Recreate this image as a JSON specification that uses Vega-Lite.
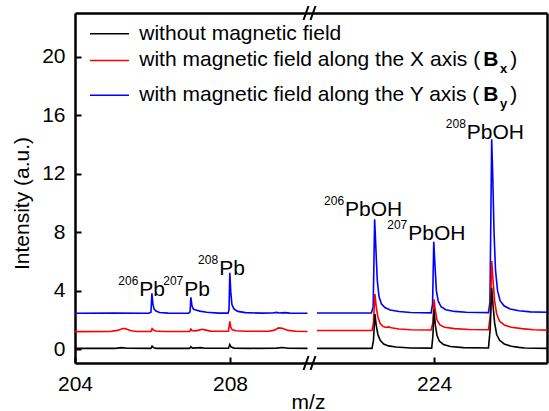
{
  "$schema": "https://vega.github.io/schema/vega-lite/v6.json",
  "width": 472,
  "height": 350,
  "autosize": {"type": "none"},
  "padding": {"left": 75, "top": 13, "right": 2, "bottom": 48},
  "background": "white",
  "config": {
    "view": {"stroke": null},
    "font": "Liberation Sans",
    "axis": {
      "labelFont": "Liberation Sans", "titleFont": "Liberation Sans",
      "labelColor": "black", "titleColor": "black", "domainColor": "black", "tickColor": "black",
      "grid": false, "domainWidth": 2.5, "tickWidth": 2, "labelFontSize": 21, "titleFontSize": 21,
      "titleFontWeight": "normal", "labelFlush": false, "labelOverlap": false
    }
  },
  "datasets": {
    "spectra": [
      {"s":"By","p":"L","mz":204,"i":2.45},{"s":"By","p":"L","mz":205.0,"i":2.46},{"s":"By","p":"L","mz":205.9,"i":2.45},{"s":"By","p":"L","mz":205.96,"i":2.52},{"s":"By","p":"L","mz":205.985,"i":3.82},{"s":"By","p":"L","mz":206.01,"i":3.1},{"s":"By","p":"L","mz":206.04,"i":2.75},{"s":"By","p":"L","mz":206.09,"i":2.6},{"s":"By","p":"L","mz":206.18,"i":2.51},{"s":"By","p":"L","mz":206.4,"i":2.46},{"s":"By","p":"L","mz":206.93,"i":2.45},{"s":"By","p":"L","mz":206.97,"i":2.55},{"s":"By","p":"L","mz":206.99,"i":3.54},{"s":"By","p":"L","mz":207.02,"i":2.95},{"s":"By","p":"L","mz":207.06,"i":2.72},{"s":"By","p":"L","mz":207.12,"i":2.68},{"s":"By","p":"L","mz":207.22,"i":2.6},{"s":"By","p":"L","mz":207.4,"i":2.52},{"s":"By","p":"L","mz":207.7,"i":2.46},{"s":"By","p":"L","mz":207.95,"i":2.46},{"s":"By","p":"L","mz":207.975,"i":2.7},{"s":"By","p":"L","mz":207.995,"i":5.23},{"s":"By","p":"L","mz":208.02,"i":3.9},{"s":"By","p":"L","mz":208.05,"i":3.05},{"s":"By","p":"L","mz":208.1,"i":2.75},{"s":"By","p":"L","mz":208.2,"i":2.58},{"s":"By","p":"L","mz":208.4,"i":2.5},{"s":"By","p":"L","mz":208.8,"i":2.46},{"s":"By","p":"L","mz":209.1,"i":2.47},{"s":"By","p":"L","mz":209.2,"i":2.51},{"s":"By","p":"L","mz":209.28,"i":2.47},{"s":"By","p":"L","mz":209.4,"i":2.5},{"s":"By","p":"L","mz":209.55,"i":2.46},{"s":"By","p":"L","mz":210,"i":2.45},
      {"s":"By","p":"R","mz":222,"i":2.47},{"s":"By","p":"R","mz":222.93,"i":2.47},{"s":"By","p":"R","mz":222.96,"i":2.9},{"s":"By","p":"R","mz":222.985,"i":8.88},{"s":"By","p":"R","mz":223.005,"i":7.0},{"s":"By","p":"R","mz":223.03,"i":4.7},{"s":"By","p":"R","mz":223.06,"i":3.6},{"s":"By","p":"R","mz":223.1,"i":3.1},{"s":"By","p":"R","mz":223.16,"i":2.85},{"s":"By","p":"R","mz":223.25,"i":2.68},{"s":"By","p":"R","mz":223.4,"i":2.57},{"s":"By","p":"R","mz":223.6,"i":2.51},{"s":"By","p":"R","mz":223.95,"i":2.48},{"s":"By","p":"R","mz":223.975,"i":3.1},{"s":"By","p":"R","mz":223.995,"i":7.35},{"s":"By","p":"R","mz":224.015,"i":5.8},{"s":"By","p":"R","mz":224.04,"i":4.0},{"s":"By","p":"R","mz":224.07,"i":3.3},{"s":"By","p":"R","mz":224.12,"i":2.9},{"s":"By","p":"R","mz":224.2,"i":2.7},{"s":"By","p":"R","mz":224.35,"i":2.58},{"s":"By","p":"R","mz":224.55,"i":2.52},{"s":"By","p":"R","mz":224.93,"i":2.5},{"s":"By","p":"R","mz":224.955,"i":3.2},{"s":"By","p":"R","mz":224.985,"i":14.36},{"s":"By","p":"R","mz":225.005,"i":11.5},{"s":"By","p":"R","mz":225.025,"i":8.0},{"s":"By","p":"R","mz":225.05,"i":5.4},{"s":"By","p":"R","mz":225.085,"i":4.0},{"s":"By","p":"R","mz":225.13,"i":3.3},{"s":"By","p":"R","mz":225.2,"i":2.95},{"s":"By","p":"R","mz":225.3,"i":2.75},{"s":"By","p":"R","mz":225.45,"i":2.62},{"s":"By","p":"R","mz":225.65,"i":2.55},{"s":"By","p":"R","mz":225.93,"i":2.52},
      {"s":"Bx","p":"L","mz":204,"i":1.2},{"s":"Bx","p":"L","mz":204.9,"i":1.21},{"s":"Bx","p":"L","mz":205.1,"i":1.28},{"s":"Bx","p":"L","mz":205.25,"i":1.42},{"s":"Bx","p":"L","mz":205.32,"i":1.38},{"s":"Bx","p":"L","mz":205.45,"i":1.26},{"s":"Bx","p":"L","mz":205.6,"i":1.21},{"s":"Bx","p":"L","mz":205.96,"i":1.21},{"s":"Bx","p":"L","mz":205.99,"i":1.4},{"s":"Bx","p":"L","mz":206.02,"i":1.3},{"s":"Bx","p":"L","mz":206.08,"i":1.24},{"s":"Bx","p":"L","mz":206.3,"i":1.21},{"s":"Bx","p":"L","mz":206.96,"i":1.21},{"s":"Bx","p":"L","mz":206.99,"i":1.38},{"s":"Bx","p":"L","mz":207.02,"i":1.27},{"s":"Bx","p":"L","mz":207.1,"i":1.25},{"s":"Bx","p":"L","mz":207.2,"i":1.3},{"s":"Bx","p":"L","mz":207.28,"i":1.36},{"s":"Bx","p":"L","mz":207.38,"i":1.3},{"s":"Bx","p":"L","mz":207.5,"i":1.23},{"s":"Bx","p":"L","mz":207.96,"i":1.22},{"s":"Bx","p":"L","mz":207.995,"i":1.9},{"s":"Bx","p":"L","mz":208.02,"i":1.5},{"s":"Bx","p":"L","mz":208.06,"i":1.32},{"s":"Bx","p":"L","mz":208.15,"i":1.26},{"s":"Bx","p":"L","mz":208.4,"i":1.22},{"s":"Bx","p":"L","mz":209.0,"i":1.22},{"s":"Bx","p":"L","mz":209.15,"i":1.3},{"s":"Bx","p":"L","mz":209.25,"i":1.45},{"s":"Bx","p":"L","mz":209.35,"i":1.42},{"s":"Bx","p":"L","mz":209.5,"i":1.28},{"s":"Bx","p":"L","mz":209.7,"i":1.22},{"s":"Bx","p":"L","mz":210,"i":1.21},
      {"s":"Bx","p":"R","mz":222,"i":1.27},{"s":"Bx","p":"R","mz":222.94,"i":1.28},{"s":"Bx","p":"R","mz":222.965,"i":1.8},{"s":"Bx","p":"R","mz":222.99,"i":3.77},{"s":"Bx","p":"R","mz":223.01,"i":3.0},{"s":"Bx","p":"R","mz":223.04,"i":2.2},{"s":"Bx","p":"R","mz":223.08,"i":1.75},{"s":"Bx","p":"R","mz":223.13,"i":1.55},{"s":"Bx","p":"R","mz":223.18,"i":1.48},{"s":"Bx","p":"R","mz":223.22,"i":1.52},{"s":"Bx","p":"R","mz":223.27,"i":1.46},{"s":"Bx","p":"R","mz":223.4,"i":1.38},{"s":"Bx","p":"R","mz":223.6,"i":1.33},{"s":"Bx","p":"R","mz":223.95,"i":1.31},{"s":"Bx","p":"R","mz":223.98,"i":1.8},{"s":"Bx","p":"R","mz":224.0,"i":3.41},{"s":"Bx","p":"R","mz":224.02,"i":2.7},{"s":"Bx","p":"R","mz":224.05,"i":2.0},{"s":"Bx","p":"R","mz":224.1,"i":1.65},{"s":"Bx","p":"R","mz":224.18,"i":1.5},{"s":"Bx","p":"R","mz":224.35,"i":1.4},{"s":"Bx","p":"R","mz":224.6,"i":1.34},{"s":"Bx","p":"R","mz":224.93,"i":1.33},{"s":"Bx","p":"R","mz":224.96,"i":2.2},{"s":"Bx","p":"R","mz":224.985,"i":6.03},{"s":"Bx","p":"R","mz":225.01,"i":4.6},{"s":"Bx","p":"R","mz":225.035,"i":3.3},{"s":"Bx","p":"R","mz":225.07,"i":2.4},{"s":"Bx","p":"R","mz":225.12,"i":1.9},{"s":"Bx","p":"R","mz":225.2,"i":1.65},{"s":"Bx","p":"R","mz":225.32,"i":1.5},{"s":"Bx","p":"R","mz":225.5,"i":1.4},{"s":"Bx","p":"R","mz":225.7,"i":1.33},{"s":"Bx","p":"R","mz":225.93,"i":1.3},
      {"s":"none","p":"L","mz":204,"i":0.05},{"s":"none","p":"L","mz":205.05,"i":0.05},{"s":"none","p":"L","mz":205.2,"i":0.1},{"s":"none","p":"L","mz":205.35,"i":0.06},{"s":"none","p":"L","mz":205.96,"i":0.05},{"s":"none","p":"L","mz":205.99,"i":0.2},{"s":"none","p":"L","mz":206.03,"i":0.09},{"s":"none","p":"L","mz":206.1,"i":0.05},{"s":"none","p":"L","mz":206.96,"i":0.05},{"s":"none","p":"L","mz":206.99,"i":0.17},{"s":"none","p":"L","mz":207.03,"i":0.07},{"s":"none","p":"L","mz":207.25,"i":0.1},{"s":"none","p":"L","mz":207.35,"i":0.06},{"s":"none","p":"L","mz":207.96,"i":0.06},{"s":"none","p":"L","mz":207.995,"i":0.32},{"s":"none","p":"L","mz":208.03,"i":0.14},{"s":"none","p":"L","mz":208.1,"i":0.07},{"s":"none","p":"L","mz":208.5,"i":0.05},{"s":"none","p":"L","mz":209.2,"i":0.07},{"s":"none","p":"L","mz":209.35,"i":0.11},{"s":"none","p":"L","mz":209.5,"i":0.06},{"s":"none","p":"L","mz":210,"i":0.05},
      {"s":"none","p":"R","mz":222,"i":0.05},{"s":"none","p":"R","mz":222.94,"i":0.05},{"s":"none","p":"R","mz":222.965,"i":0.6},{"s":"none","p":"R","mz":222.99,"i":2.4},{"s":"none","p":"R","mz":223.01,"i":1.7},{"s":"none","p":"R","mz":223.04,"i":1.0},{"s":"none","p":"R","mz":223.08,"i":0.6},{"s":"none","p":"R","mz":223.14,"i":0.35},{"s":"none","p":"R","mz":223.22,"i":0.22},{"s":"none","p":"R","mz":223.35,"i":0.14},{"s":"none","p":"R","mz":223.6,"i":0.08},{"s":"none","p":"R","mz":223.96,"i":0.07},{"s":"none","p":"R","mz":223.98,"i":0.9},{"s":"none","p":"R","mz":224.0,"i":2.7},{"s":"none","p":"R","mz":224.02,"i":1.7},{"s":"none","p":"R","mz":224.05,"i":0.95},{"s":"none","p":"R","mz":224.09,"i":0.55},{"s":"none","p":"R","mz":224.16,"i":0.32},{"s":"none","p":"R","mz":224.28,"i":0.18},{"s":"none","p":"R","mz":224.5,"i":0.1},{"s":"none","p":"R","mz":224.93,"i":0.08},{"s":"none","p":"R","mz":224.96,"i":1.4},{"s":"none","p":"R","mz":224.985,"i":4.2},{"s":"none","p":"R","mz":225.01,"i":2.9},{"s":"none","p":"R","mz":225.035,"i":1.8},{"s":"none","p":"R","mz":225.07,"i":1.0},{"s":"none","p":"R","mz":225.12,"i":0.6},{"s":"none","p":"R","mz":225.2,"i":0.35},{"s":"none","p":"R","mz":225.32,"i":0.2},{"s":"none","p":"R","mz":225.45,"i":0.12},{"s":"none","p":"R","mz":225.55,"i":0.08},{"s":"none","p":"R","mz":225.93,"i":0.05}
    ],
    "legend": [
      {"s":"none","ly":21.58,"label":"without magnetic field"},
      {"s":"Bx","ly":19.75,"label":"with magnetic field along the X axis ("},
      {"s":"By","ly":17.37,"label":"with magnetic field along the Y axis ("}
    ],
    "subs": [
      {"ly":19.75,"sub":"x"},
      {"ly":17.37,"sub":"y"}
    ],
    "peaks": [
      {"mz":205.66,"base":3.65,"iso":"206","name":"Pb"},
      {"mz":206.82,"base":3.63,"iso":"207","name":"Pb"},
      {"mz":207.72,"base":5.07,"iso":"208","name":"Pb"},
      {"mz":222.48,"base":9.11,"iso":"206","name":"PbOH"},
      {"mz":223.56,"base":7.47,"iso":"207","name":"PbOH"},
      {"mz":224.56,"base":14.36,"iso":"208","name":"PbOH"}
    ],
    "breaks": [
      {"mz":209.897,"mz2":211.26,"i":-1.43,"i2":-0.47},
      {"mz":213.79,"mz2":220.1,"i":-1.43,"i2":-0.47},
      {"mz":209.897,"mz2":211.26,"i":22.52,"i2":23.48},
      {"mz":213.79,"mz2":220.1,"i":22.52,"i2":23.48}
    ]
  },
  "resolve": {"axis": {"x": "independent", "y": "independent"}},
  "layer": [
    {
      "data": {"name": "spectra"},
      "transform": [{"filter": "datum.s === 'By'"}],
      "mark": {"type": "line", "strokeWidth": 1.6},
      "encoding": {
        "x": {"field": "mz", "type": "quantitative",
              "scale": {"type": "linear", "domain": [204, 210, 222, 225.93], "range": [0, 232.5, 242, 472], "nice": false, "zero": false},
              "axis": {"orient": "bottom", "values": [204, 208, 224], "title": "m/z", "tickSize": -6, "labelPadding": 16, "titleBaseline": "alphabetic", "titleY": 45, "titleX": 233}},
        "y": {"field": "i", "type": "quantitative",
              "scale": {"domain": [-0.95, 23], "nice": false, "zero": false},
              "axis": {"orient": "left", "values": [0, 4, 8, 12, 16, 20], "title": "Intensity (a.u.)", "tickSize": -6, "labelPadding": 16, "titleBaseline": "alphabetic", "titleX": -47, "titleY": 190}},
        "color": {"field": "s", "type": "nominal", "scale": {"domain": ["none", "Bx", "By"], "range": ["#000000", "#ff0000", "#0000ff"]}, "legend": null},
        "detail": {"field": "p"}
      }
    },
    {
      "data": {"name": "spectra"},
      "transform": [{"filter": "datum.s === 'Bx'"}],
      "mark": {"type": "line", "strokeWidth": 1.6},
      "encoding": {
        "x": {"field": "mz", "type": "quantitative",
              "scale": {"type": "linear", "domain": [204, 210, 222, 225.93], "range": [0, 232.5, 242, 472], "nice": false, "zero": false},
              "axis": {"orient": "top", "labels": false, "ticks": false, "title": null}},
        "y": {"field": "i", "type": "quantitative",
              "scale": {"domain": [-0.95, 23], "nice": false, "zero": false},
              "axis": {"orient": "right", "labels": false, "ticks": false, "title": null}},
        "color": {"field": "s", "type": "nominal", "scale": {"domain": ["none", "Bx", "By"], "range": ["#000000", "#ff0000", "#0000ff"]}, "legend": null},
        "detail": {"field": "p"}
      }
    },
    {
      "data": {"name": "spectra"},
      "transform": [{"filter": "datum.s === 'none'"}],
      "mark": {"type": "line", "strokeWidth": 1.6},
      "encoding": {
        "x": {"field": "mz", "type": "quantitative",
              "scale": {"type": "linear", "domain": [204, 210, 222, 225.93], "range": [0, 232.5, 242, 472], "nice": false, "zero": false}, "axis": null},
        "y": {"field": "i", "type": "quantitative",
              "scale": {"domain": [-0.95, 23], "nice": false, "zero": false}, "axis": null},
        "color": {"field": "s", "type": "nominal", "scale": {"domain": ["none", "Bx", "By"], "range": ["#000000", "#ff0000", "#0000ff"]}, "legend": null},
        "detail": {"field": "p"}
      }
    },
    {
      "mark": {"type": "rect", "fill": "white", "stroke": null},
      "encoding": {
        "x": {"datum": 210, "type": "quantitative", "scale": {"type": "linear", "domain": [204, 210, 222, 225.93], "range": [0, 232.5, 242, 472], "nice": false, "zero": false}, "axis": null},
        "x2": {"datum": 222},
        "y": {"datum": -1.4, "type": "quantitative", "scale": {"domain": [-0.95, 23], "nice": false, "zero": false}, "axis": null},
        "y2": {"datum": 23.45}
      }
    },
    {
      "data": {"name": "breaks"},
      "mark": {"type": "rule", "color": "black", "strokeWidth": 2},
      "encoding": {
        "x": {"field": "mz", "type": "quantitative", "scale": {"type": "linear", "domain": [204, 210, 222, 225.93], "range": [0, 232.5, 242, 472], "nice": false, "zero": false}, "axis": null},
        "x2": {"field": "mz2"},
        "y": {"field": "i", "type": "quantitative", "scale": {"domain": [-0.95, 23], "nice": false, "zero": false}, "axis": null},
        "y2": {"field": "i2"}
      }
    },
    {
      "data": {"name": "legend"},
      "mark": {"type": "rule", "strokeWidth": 1.6},
      "encoding": {
        "x": {"datum": 204.387, "type": "quantitative", "scale": {"type": "linear", "domain": [204, 210, 222, 225.93], "range": [0, 232.5, 242, 472], "nice": false, "zero": false}, "axis": null},
        "x2": {"datum": 205.394},
        "y": {"field": "ly", "type": "quantitative", "scale": {"domain": [-0.95, 23], "nice": false, "zero": false}, "axis": null},
        "color": {"field": "s", "type": "nominal", "scale": {"domain": ["none", "Bx", "By"], "range": ["#000000", "#ff0000", "#0000ff"]}, "legend": null}
      }
    },
    {
      "data": {"name": "legend"},
      "mark": {"type": "text", "align": "left", "baseline": "middle", "fontSize": 21, "font": "Liberation Sans", "color": "black"},
      "encoding": {
        "x": {"datum": 205.659, "type": "quantitative", "scale": {"type": "linear", "domain": [204, 210, 222, 225.93], "range": [0, 232.5, 242, 472], "nice": false, "zero": false}, "axis": null},
        "y": {"field": "ly", "type": "quantitative", "scale": {"domain": [-0.95, 23], "nice": false, "zero": false}, "axis": null},
        "text": {"field": "label"}
      }
    },
    {
      "data": {"name": "subs"},
      "mark": {"type": "text", "align": "left", "baseline": "middle", "fontSize": 21, "fontWeight": "bold", "font": "Liberation Sans", "color": "black", "text": "B"},
      "encoding": {
        "x": {"datum": 224.84, "type": "quantitative", "scale": {"type": "linear", "domain": [204, 210, 222, 225.93], "range": [0, 232.5, 242, 472], "nice": false, "zero": false}, "axis": null},
        "y": {"field": "ly", "type": "quantitative", "scale": {"domain": [-0.95, 23], "nice": false, "zero": false}, "axis": null}
      }
    },
    {
      "data": {"name": "subs"},
      "mark": {"type": "text", "align": "left", "baseline": "middle", "fontSize": 13, "fontWeight": "bold", "font": "Liberation Sans", "color": "black", "dy": 9},
      "encoding": {
        "x": {"datum": 225.128, "type": "quantitative", "scale": {"type": "linear", "domain": [204, 210, 222, 225.93], "range": [0, 232.5, 242, 472], "nice": false, "zero": false}, "axis": null},
        "y": {"field": "ly", "type": "quantitative", "scale": {"domain": [-0.95, 23], "nice": false, "zero": false}, "axis": null},
        "text": {"field": "sub"}
      }
    },
    {
      "data": {"name": "subs"},
      "mark": {"type": "text", "align": "left", "baseline": "middle", "fontSize": 21, "font": "Liberation Sans", "color": "black", "text": ")"},
      "encoding": {
        "x": {"datum": 225.3, "type": "quantitative", "scale": {"type": "linear", "domain": [204, 210, 222, 225.93], "range": [0, 232.5, 242, 472], "nice": false, "zero": false}, "axis": null},
        "y": {"field": "ly", "type": "quantitative", "scale": {"domain": [-0.95, 23], "nice": false, "zero": false}, "axis": null}
      }
    },
    {
      "data": {"name": "peaks"},
      "mark": {"type": "text", "align": "left", "baseline": "alphabetic", "fontSize": 21, "font": "Liberation Sans", "color": "black"},
      "encoding": {
        "x": {"field": "mz", "type": "quantitative", "scale": {"type": "linear", "domain": [204, 210, 222, 225.93], "range": [0, 232.5, 242, 472], "nice": false, "zero": false}, "axis": null},
        "y": {"field": "base", "type": "quantitative", "scale": {"domain": [-0.95, 23], "nice": false, "zero": false}, "axis": null},
        "text": {"field": "name"}
      }
    },
    {
      "data": {"name": "peaks"},
      "mark": {"type": "text", "align": "right", "baseline": "alphabetic", "fontSize": 12, "font": "Liberation Sans", "color": "black", "dy": -11, "dx": -1},
      "encoding": {
        "x": {"field": "mz", "type": "quantitative", "scale": {"type": "linear", "domain": [204, 210, 222, 225.93], "range": [0, 232.5, 242, 472], "nice": false, "zero": false}, "axis": null},
        "y": {"field": "base", "type": "quantitative", "scale": {"domain": [-0.95, 23], "nice": false, "zero": false}, "axis": null},
        "text": {"field": "iso"}
      }
    }
  ]
}
